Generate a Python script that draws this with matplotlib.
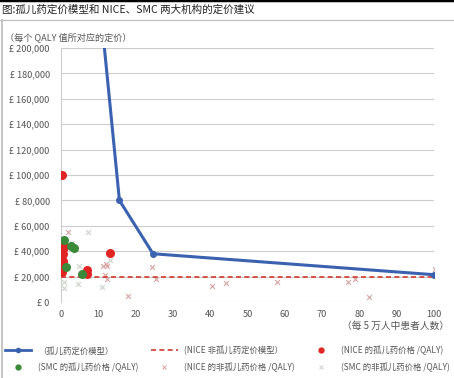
import matplotlib
matplotlib.use('Agg')
import matplotlib.pyplot as plt
from matplotlib.lines import Line2D
from matplotlib.ticker import FuncFormatter

plt.rcParams['font.family'] = ['Noto Sans CJK SC', 'DejaVu Sans']

# pricing model (patients per 50,000 -> price per QALY)
model_x = [10, 15.7, 24.7, 100]
model_y = [250000, 80000, 38000, 21500]

nice_threshold = 19500

nice_orphan_x = [0.3, 0.3, 0.8, 0.5, 0.2, 0.6, 0.5, 0.3, 0.4, 0.2, 7.0, 7.0, 13.3]
nice_orphan_y = [100000, 46000, 44000, 42000, 40000, 38000, 32000, 30000, 28500, 24000, 25500, 22000, 38500]

smc_orphan_x = [0.9, 2.6, 3.6, 1.3, 5.8]
smc_orphan_y = [49000, 44000, 42500, 27500, 22000]

nice_non_x = [2.0, 11.2, 12.0, 12.4, 11.8, 12.4, 18.1, 24.4, 25.6, 40.4, 44.2, 58.0, 76.9, 78.7, 82.7, 100.3]
nice_non_y = [55500, 28000, 30000, 28500, 21000, 18500, 5000, 27800, 18300, 13000, 15200, 15500, 15700, 17800, 4000, 25700]

smc_non_x = [7.4, 3.1, 5.0, 0.8, 0.9, 4.5, 11.1, 13.3]
smc_non_y = [55500, 46500, 28300, 16000, 10800, 14000, 11600, 33000]

yticks = list(range(0, 200001, 20000))
xticks = list(range(0, 101, 10))

blue = '#3b62b0'
red = '#e02424'
green = '#3a8a3a'
dash_red = '#d23a2c'
cross_red = '#d8a2a2'
cross_gray = '#c9d2c9'
txt = '#555555'

fig = plt.figure(figsize=(4.54, 3.78), dpi=100)
ax = fig.add_axes([0.134, 0.201, 0.822, 0.672])

ax.plot(model_x, model_y, color=blue, lw=2.2, marker='o', ms=4, zorder=5)
ax.axhline(nice_threshold, color=dash_red, lw=1.2, ls=(0, (3, 2)), zorder=4)
ax.scatter(nice_non_x, nice_non_y, marker='x', s=12, lw=0.8, color=cross_red, zorder=3)
ax.scatter(smc_non_x, smc_non_y, marker='x', s=12, lw=0.8, color=cross_gray, zorder=3)
ax.scatter(nice_orphan_x, nice_orphan_y, s=30, color=red, zorder=6)
ax.scatter(smc_orphan_x, smc_orphan_y, s=30, color=green, zorder=6)

ax.set_xlim(0, 100)
ax.set_ylim(0, 200000)
ax.set_yticks(yticks)
ax.set_xticks(xticks)
ax.yaxis.set_major_formatter(FuncFormatter(lambda v, p: '£ {:,.0f}'.format(v)))
ax.grid(axis='y', color='#cccccc', lw=0.8)
ax.set_axisbelow(True)
for s in ['top', 'right', 'bottom']:
    ax.spines[s].set_visible(False)
ax.spines['left'].set_color('#cccccc')
ax.tick_params(length=0, labelsize=6.6, colors=txt)
ax.tick_params(axis='y', pad=8)
ax.tick_params(axis='x', pad=6)

fig.text(0.004, 0.975, '图:孤儿药定价模型和 NICE、SMC 两大机构的定价建议',
         fontsize=7.6, color='#222222', va='center', ha='left')
fig.add_artist(Line2D([0, 1], [0.999, 0.999], color='black', lw=2.5))
fig.add_artist(Line2D([0, 1], [0.948, 0.948], color='#bbbbbb', lw=0.8))
fig.add_artist(Line2D([0.004, 0.004], [0, 0.948], color='#bbbbbb', lw=1.2))

fig.text(0.012, 0.902, '（每个 QALY 值所对应的定价）', fontsize=6.6, color=txt, va='center')
fig.text(0.99, 0.137, '（每 5 万人中患者人数）', fontsize=7, color=txt, va='center', ha='right')

handles = [
    Line2D([], [], color=blue, lw=2, marker='o', ms=3),
    Line2D([], [], color=dash_red, lw=1.2, ls=(0, (3, 2))),
    Line2D([], [], color=red, lw=0, marker='o', ms=3.5),
    Line2D([], [], color=green, lw=0, marker='o', ms=3.5),
    Line2D([], [], color=cross_red, lw=0, marker='x', ms=3, mew=0.7),
    Line2D([], [], color=cross_gray, lw=0, marker='x', ms=3, mew=0.7),
]
labels = [
    '（孤儿药定价模型）', '(NICE 非孤儿药定价模型）', '(NICE 的孤儿药价格 /QALY)',
    '(SMC 的孤儿药价格 /QALY)', '(NICE 的非孤儿药价格 /QALY)', '(SMC 的非孤儿药价格 /QALY)',
]
order = [0, 3, 1, 4, 2, 5]
fig.legend([handles[i] for i in order], [labels[i] for i in order], ncol=3,
           loc='center', bbox_to_anchor=(0.5, 0.05), frameon=False, fontsize=6,
           labelcolor=txt, handlelength=3.2, columnspacing=1.5, handletextpad=0.8,
           labelspacing=0.9)

fig.savefig('out.png', dpi=100)
